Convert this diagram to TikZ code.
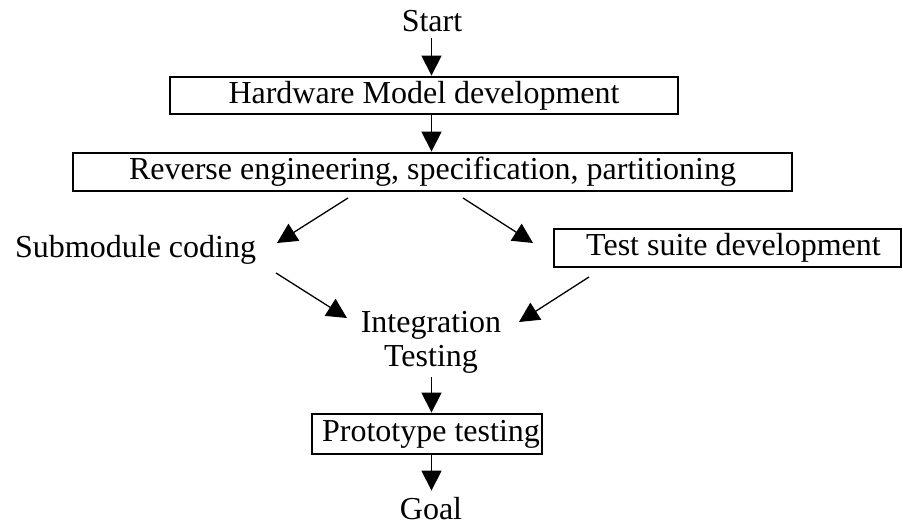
\documentclass[tikz,border=0pt]{standalone}
\usepackage{fontspec}
\setmainfont{Liberation Serif}
\usetikzlibrary{arrows.meta}
\begin{document}
\begin{tikzpicture}[x=1pt,y=-1pt,
  every node/.style={font=\fontsize{32}{34}\selectfont},
  txt/.style={inner sep=0pt},
  boxed/.style={draw, line width=2.8pt, inner sep=0pt},
  arr/.style={line width=1.3pt, -{Triangle[length=20pt,width=20pt]}}]
\useasboundingbox (0,0) rectangle (903,526);
\coordinate (axis) at (431.5,0);
\node[txt, anchor=base] (start) at (432,32) {Start};
\node[boxed, minimum width=508, minimum height=37] (hw) at (424,95.5) {Hardware Model development};
\node[boxed, minimum width=719, minimum height=38] (rev) at (432.5,172) {Reverse engineering, specification, partitioning};
\node[txt, anchor=base west] (sub) at (15,258) {Submodule coding};
\node[boxed, minimum width=347, minimum height=38] (test) at (727.5,248) {\hspace*{12pt}Test suite development};
\node[txt, anchor=base] (int) at (431,333) {\begin{tabular}[t]{@{}c@{}}Integration\\Testing\end{tabular}};
\node[boxed, minimum width=230, minimum height=40] (proto) at (427,434) {\hspace*{8pt}Prototype testing};
\node[txt, anchor=base] (goal) at (431,520) {Goal};
\coordinate (r1) at (348,198);
\coordinate (s1) at (277,243);
\coordinate (r2) at (463,198);
\coordinate (t1) at (533,243);
\coordinate (s2) at (276,273);
\coordinate (i1) at (347,318);
\coordinate (t2) at (589,277);
\coordinate (i2) at (519,322);
\draw[arr] ([yshift=-5pt]axis |- start.south) -- (axis |- hw.north);
\draw[arr] (axis |- hw.south) -- (axis |- rev.north);
\draw[arr] (r1) -- (s1);
\draw[arr] (r2) -- (t1);
\draw[arr] (s2) -- (i1);
\draw[arr] (t2) -- (i2);
\draw[arr] (axis |- int.south) -- (axis |- proto.north);
\draw[arr] (axis |- proto.south) -- ([yshift=7pt]axis |- goal.north);
\end{tikzpicture}
\end{document}
